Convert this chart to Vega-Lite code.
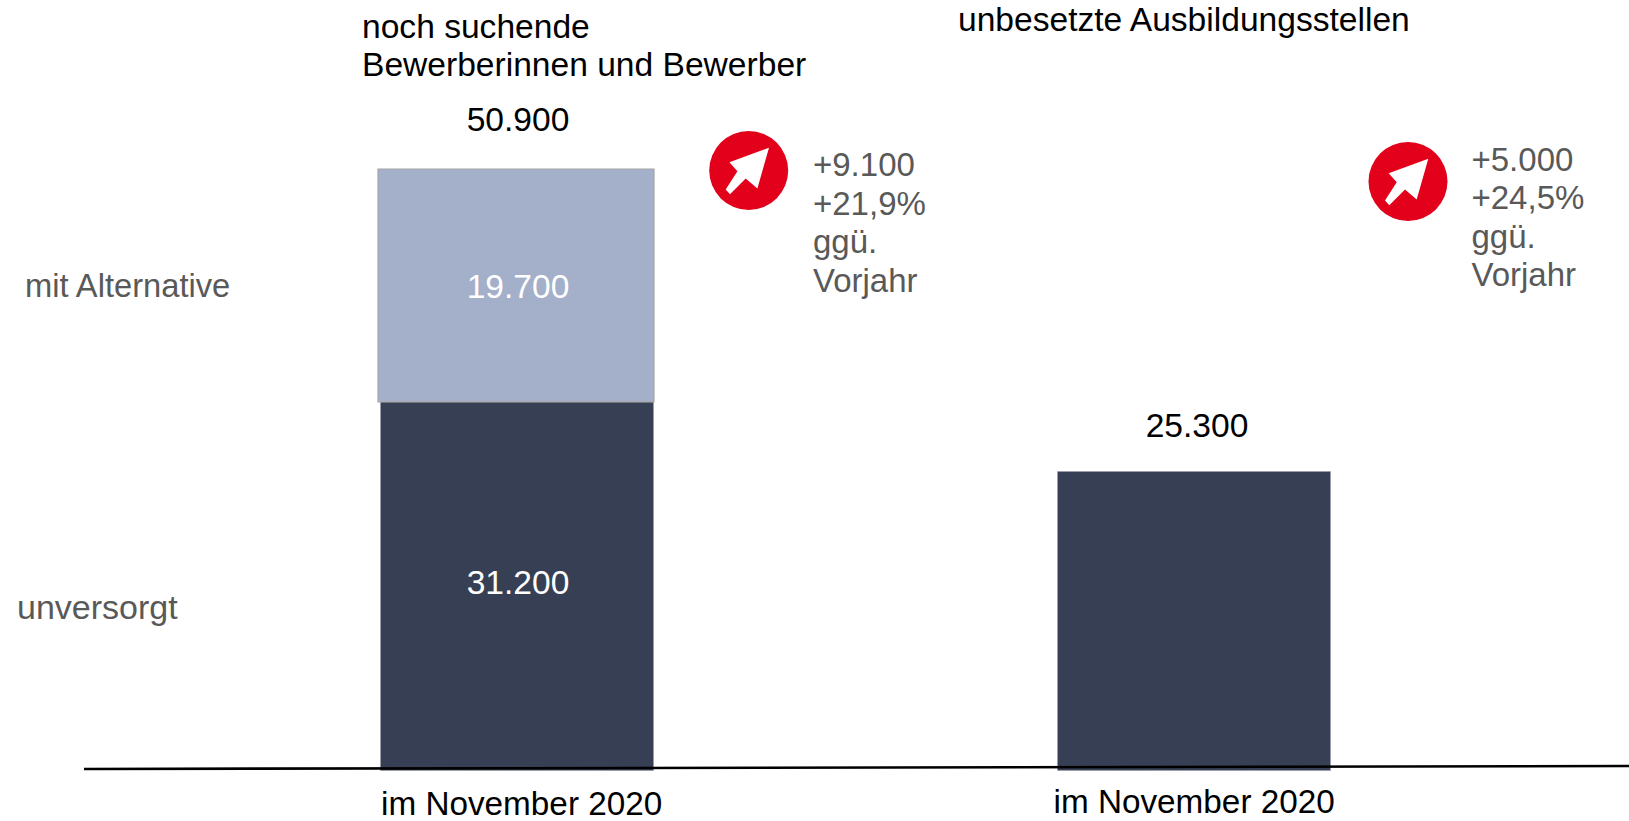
{
"$schema":"https://vega.github.io/schema/vega-lite/v6.json",
"width":1629,"height":821,"padding":0,
"autosize":"none",
"background":"white",
"config":{"view":{"stroke":null},"text":{"font":"Liberation Sans","fontSize":33.6,"align":"left","baseline":"alphabetic"}},
"datasets":{
"summe":[{"gruppe":"Bewerber","wert":50900,"label":"50.900"},{"gruppe":"Stellen","wert":25300,"label":"25.300"}]
},
"encoding":{
"x":{"field":"gruppe","type":"nominal","axis":null,"scale":{"type":"point","domain":["Bewerber","Stellen"],"range":[516,1193],"padding":0}},
"y":{"field":"basis","type":"quantitative","axis":null,"scale":{"domain":[-4273,65200],"nice":false,"zero":false}}
},
"layer":[
{"data":{"values":[{"gruppe":"Bewerber","segment":"unversorgt","von":0,"bis":31200},{"gruppe":"Stellen","segment":"unversorgt","von":0,"bis":25300}]},
 "mark":{"type":"bar","width":273,"xOffset":1,"fill":"#373f54","stroke":"#9a9da8","strokeWidth":0.6},
 "encoding":{"y":{"field":"von","type":"quantitative"},"y2":{"field":"bis"}}},
{"data":{"values":[{"gruppe":"Bewerber","segment":"mit Alternative","von":31200,"bis":50900}]},
 "mark":{"type":"bar","width":276,"fill":"#a4afca","stroke":"#a6a6a6","strokeWidth":1.2},
 "encoding":{"y":{"field":"von","type":"quantitative"},"y2":{"field":"bis"}}},
{"data":{"values":[{"gruppe":"Bewerber","ende":"Stellen","a":127,"b":381}]},
 "mark":{"type":"rule","color":"#000000","strokeWidth":2.6,"xOffset":-432,"x2Offset":436},
 "encoding":{"x2":{"field":"ende"},"y":{"field":"a","type":"quantitative"},"y2":{"field":"b"}}},
{"data":{"name":"summe"},"mark":{"type":"text","align":"center","dx":2,"dy":-38,"color":"#000000"},"transform":[{"filter":"datum.gruppe==='Bewerber'"}],"encoding":{"y":{"field":"wert","type":"quantitative"},"text":{"field":"label"}}},
{"data":{"name":"summe"},"mark":{"type":"text","align":"center","dx":4,"dy":-34.5,"color":"#000000"},"transform":[{"filter":"datum.gruppe==='Stellen'"}],"encoding":{"y":{"field":"wert","type":"quantitative"},"text":{"field":"label"}}},
{"data":{"values":[{"gruppe":"Bewerber","basis":0,"label":"19.700"}]},"mark":{"type":"text","align":"center","dx":2,"dy":-472.5,"color":"#ffffff"},"encoding":{"text":{"field":"label"}}},
{"data":{"values":[{"gruppe":"Bewerber","basis":0,"label":"31.200"}]},"mark":{"type":"text","align":"center","dx":2,"dy":-176.5,"color":"#ffffff"},"encoding":{"text":{"field":"label"}}},
{"data":{"values":[{"gruppe":"Bewerber","basis":0,"label":"im November 2020"}]},"mark":{"type":"text","dx":-135,"dy":44.5,"fontSize":33.3,"color":"#000000"},"encoding":{"text":{"field":"label"}}},
{"data":{"values":[{"gruppe":"Stellen","basis":0,"label":"im November 2020"}]},"mark":{"type":"text","dx":-139.5,"dy":42.5,"fontSize":33.3,"color":"#000000"},"encoding":{"text":{"field":"label"}}},
{"data":{"values":[{"gruppe":"Bewerber","basis":0,"label":["noch suchende","Bewerberinnen und Bewerber"]}]},"mark":{"type":"text","dx":-154,"dy":-732.5,"fontSize":33.6,"lineHeight":37.5,"color":"#000000"},"encoding":{"text":{"field":"label"}}},
{"data":{"values":[{"gruppe":"Stellen","basis":0,"label":"unbesetzte Ausbildungsstellen"}]},"mark":{"type":"text","dx":-235,"dy":-739.5,"fontSize":33.6,"color":"#000000"},"encoding":{"text":{"field":"label"}}},
{"data":{"values":[{"gruppe":"Bewerber","basis":0,"label":"mit Alternative"}]},"mark":{"type":"text","dx":-491,"dy":-473.5,"fontSize":32.7,"color":"#595959"},"encoding":{"text":{"field":"label"}}},
{"data":{"values":[{"gruppe":"Bewerber","basis":0,"label":"unversorgt"}]},"mark":{"type":"text","dx":-499,"dy":-151.5,"fontSize":34,"color":"#595959"},"encoding":{"text":{"field":"label"}}},
{"data":{"values":[{"gruppe":"Bewerber","basis":0,"label":["+9.100","+21,9%","ggü.","Vorjahr"]}]},"mark":{"type":"text","dx":297,"dy":-594.5,"lineHeight":38.6,"fontSize":33,"color":"#595959"},"encoding":{"text":{"field":"label"}}},
{"data":{"values":[{"gruppe":"Stellen","basis":0,"label":["+5.000","+24,5%","ggü.","Vorjahr"]}]},"mark":{"type":"text","dx":278.5,"dy":-600,"lineHeight":38.6,"fontSize":33,"color":"#595959"},"encoding":{"text":{"field":"label"}}},
{"data":{"values":[{"gruppe":"Bewerber","basis":0}]},"mark":{"type":"point","shape":"circle","filled":true,"opacity":1,"size":6241,"color":"#e2001a","xOffset":232.7,"yOffset":-600},"encoding":{}},
{"data":{"values":[{"gruppe":"Stellen","basis":0}]},"mark":{"type":"point","shape":"circle","filled":true,"opacity":1,"size":6241,"color":"#e2001a","xOffset":215,"yOffset":-589},"encoding":{}},
{"data":{"values":[{"gruppe":"Bewerber","basis":0}]},"mark":{"type":"point","shape":"M0.203 -0.227 L-0.193 -0.083 L-0.113 0.007 L-0.23 0.19 L-0.187 0.237 L-0.03 0.08 L0.087 0.18 Z","filled":true,"opacity":1,"size":40000,"color":"#ffffff","xOffset":232.7,"yOffset":-600},"encoding":{}},
{"data":{"values":[{"gruppe":"Stellen","basis":0}]},"mark":{"type":"point","shape":"M0.203 -0.227 L-0.193 -0.083 L-0.113 0.007 L-0.23 0.19 L-0.187 0.237 L-0.03 0.08 L0.087 0.18 Z","filled":true,"opacity":1,"size":40000,"color":"#ffffff","xOffset":215,"yOffset":-589},"encoding":{}}
]
}
